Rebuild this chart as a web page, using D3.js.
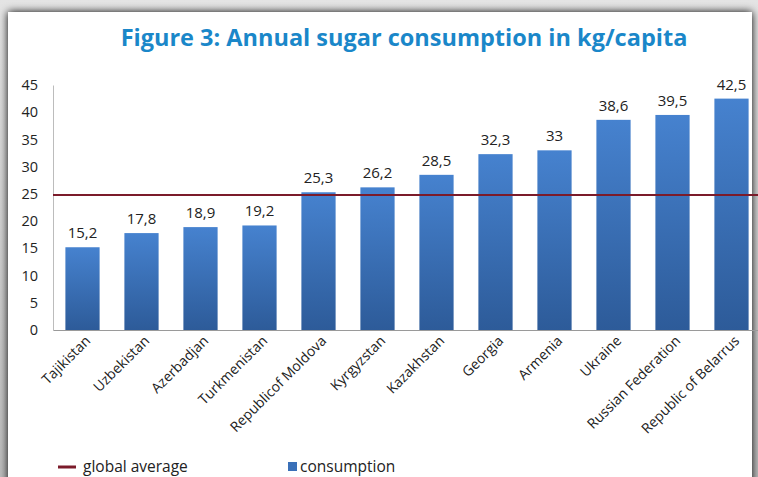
<!DOCTYPE html>
<html><head><meta charset="utf-8">
<script src="https://cdn.jsdelivr.net/npm/d3@7"></script>
<style>body{margin:0;background:#cfcfcf;}svg{display:block;}</style>
</head><body>
<svg id="c" width="758" height="477"></svg>
<script>
const categories = ["Tajikistan","Uzbekistan","Azerbadjan","Turkmenistan","Republicof Moldova","Kyrgyzstan","Kazakhstan","Georgia","Armenia","Ukraine","Russian Federation","Republic of Belarrus"];
const consumption = [15.2,17.8,18.9,19.2,25.3,26.2,28.5,32.3,33,38.6,39.5,42.5];
const valueLabels = ["15,2","17,8","18,9","19,2","25,3","26,2","28,5","32,3","33","38,6","39,5","42,5"];
const globalAverage = 24.8;
const yTicks = [0,5,10,15,20,25,30,35,40,45];
const title = "Figure 3: Annual sugar consumption in kg/capita";
const legendLabels = ["global average","consumption"];

const svg = d3.select("#c");
const font = "'Open Sans', 'Liberation Sans', sans-serif";
const defs = svg.append("defs");
const f = defs.append("filter").attr("id","sh").attr("x","-10%").attr("y","-10%").attr("width","120%").attr("height","120%");
f.append("feGaussianBlur").attr("in","SourceAlpha").attr("stdDeviation",4).attr("result","b");
f.append("feOffset").attr("in","b").attr("dx",0).attr("dy",0).attr("result","o");
const m = f.append("feMerge"); m.append("feMergeNode").attr("in","o"); m.append("feMergeNode").attr("in","SourceGraphic");
const g = defs.append("linearGradient").attr("id","bar").attr("x1",0).attr("y1",0).attr("x2",0).attr("y2",1);
g.append("stop").attr("offset","0%").attr("stop-color","#4682cf");
g.append("stop").attr("offset","100%").attr("stop-color","#2d5b99");

const bg = defs.append("linearGradient").attr("id","bg").attr("x1",0).attr("y1",0).attr("x2",0).attr("y2",1);
bg.append("stop").attr("offset","0%").attr("stop-color","#e4e4e4");
bg.append("stop").attr("offset","100%").attr("stop-color","#bdbdbd");
svg.append("rect").attr("width",758).attr("height",477).attr("fill","url(#bg)");
svg.append("rect").attr("x",8).attr("y",12).attr("width",744).attr("height",480).attr("fill","#fff").attr("filter","url(#sh)");

const x = d3.scaleBand().domain(categories).range([53,761]).paddingInner(0.42).paddingOuter(0.21);
const y = d3.scaleLinear().domain([0,45]).range([330,85]);

svg.append("text").attr("x",404).attr("y",46).attr("text-anchor","middle")
  .attr("font-family",font).attr("font-weight","bold").attr("font-size",23.5).attr("fill","#1a87c9").text(title);

// y axis
const ya = svg.append("g").attr("transform","translate(53,0)").call(d3.axisLeft(y).tickValues(yTicks).tickSize(0).tickPadding(15));
ya.select(".domain").attr("stroke","#bcbcbc");
ya.selectAll("text").attr("font-family",font).attr("font-size",14.5).attr("fill","#222");

// bars
svg.selectAll("rect.bar").data(consumption).join("rect").attr("class","bar")
  .attr("x",(d,i)=>x(categories[i])).attr("width",x.bandwidth())
  .attr("y",d=>y(d)).attr("height",d=>y(0)-y(d)).attr("fill","url(#bar)");

// x axis
const xa = svg.append("g").attr("transform","translate(0,330)").call(d3.axisBottom(x).tickSize(0).tickPadding(6));
xa.select(".domain").attr("stroke","#9a9a9a");
xa.selectAll("text").attr("font-family",font).attr("font-size",14).attr("fill","#222")
  .attr("text-anchor","end").attr("dy","0.35em")
  .attr("transform","translate(1,4) rotate(-45)");

// value labels
svg.selectAll("text.val").data(consumption).join("text").attr("class","val")
  .attr("x",(d,i)=>x(categories[i])+x.bandwidth()/2).attr("y",d=>y(d)-9)
  .attr("text-anchor","middle").attr("font-family",font).attr("font-size",15).attr("fill","#222")
  .text((d,i)=>valueLabels[i]);

// global average
svg.append("line").attr("x1",53).attr("x2",758).attr("y1",y(globalAverage)).attr("y2",y(globalAverage))
  .attr("stroke","#7b1b2a").attr("stroke-width",2);

// legend
svg.append("line").attr("x1",58).attr("x2",76).attr("y1",467).attr("y2",467).attr("stroke","#7b1b2a").attr("stroke-width",3);
svg.append("text").attr("x",83).attr("y",472).attr("font-family",font).attr("font-size",15.5).attr("fill","#222").text(legendLabels[0]);
svg.append("rect").attr("x",288).attr("y",462).attr("width",9).attr("height",9).attr("fill","#3a70b8");
svg.append("text").attr("x",300).attr("y",472).attr("font-family",font).attr("font-size",15.5).attr("fill","#222").text(legendLabels[1]);
</script>
</body></html>
